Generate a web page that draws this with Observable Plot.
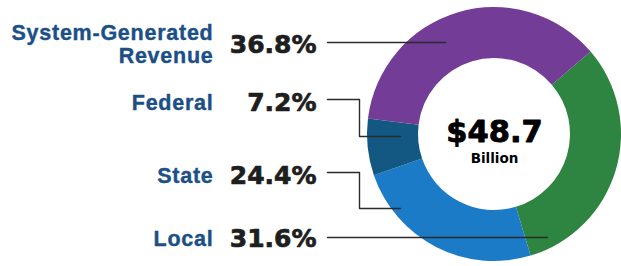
<!DOCTYPE html>
<html>
<head>
<meta charset="utf-8">
<script src="https://cdn.jsdelivr.net/npm/d3@7"></script>
<script src="https://cdn.jsdelivr.net/npm/@observablehq/plot@0.6"></script>
<style>
  html, body { margin: 0; padding: 0; background: #fff; }
</style>
</head>
<body>
<div id="chart"></div>
<script>
// ---- data ----
const categories = ["System-Generated Revenue", "Federal", "State", "Local"];
const labelText = ["System-Generated\nRevenue", "Federal", "State", "Local"];
const shares = [36.8, 7.2, 24.4, 31.6];
const colors = ["#723c97", "#125883", "#1c7bc6", "#2e8542"];
const totalLabel = "$48.7";
const totalUnit = "Billion";

// ---- layout ----
const W = 621, H = 266;
const cx = 494, cy = 134, rOuter = 127, rInner = 76;
const startDeg = 49.5;
const labelRight = 213, pctRight = 316;
const pctBaseline = [52, 110, 183, 246];
const labelBaseline = [62, 109, 182, 245];
const lineY = [42, 99, 172, 237];
const lineStartX = 327;

const rows = categories.map((c, i) => ({
  category: c, label: labelText[i], share: shares[i], color: colors[i],
  pct: shares[i].toFixed(1) + "%"
}));

// pie ordered clockwise: Local, State, Federal, System
const pieOrder = rows.slice().reverse();
const start = startDeg * Math.PI / 180;
const arcs = d3.pie().sort(null).value(d => d.share)
  .startAngle(start).endAngle(start + 2 * Math.PI)(pieOrder);

// leader line end points (layout)
const bendX = 359;
const leaderEnds = {
  "System-Generated Revenue": [[lineStartX, lineY[0]], [445, lineY[0]]],
  "Federal": [[lineStartX, lineY[1]], [bendX, lineY[1]], [bendX, 136], [400, 136]],
  "State": [[lineStartX, lineY[2]], [bendX, lineY[2]], [bendX, 208], [400, 208]],
  "Local": [[lineStartX, lineY[3]], [547, lineY[3]]]
};
const leaderPts = [];
for (const r of rows) for (const [x, y] of leaderEnds[r.category]) leaderPts.push({category: r.category, x, y});

const donut = (index, scales) => {
  const g = d3.create("svg:g").attr("transform", `translate(${scales.x(cx)},${scales.y(cy)})`);
  const arc = d3.arc().innerRadius(rInner).outerRadius(rOuter);
  g.selectAll("path").data(arcs).join("path")
    .attr("d", arc)
    .attr("fill", d => d.data.color);
  return g.node();
};

const plot = Plot.plot({
  width: W, height: H, margin: 0,
  x: {domain: [0, W], range: [0, W], axis: null},
  y: {domain: [0, H], range: [0, H], axis: null},
  style: {background: "#fff"},
  marks: [
    donut,
    Plot.line(leaderPts, {x: "x", y: "y", z: "category", stroke: "#2b2b2b", strokeWidth: 1.4, curve: "linear"}),
    Plot.text(rows, {
      x: () => labelRight, y: (d, i) => labelBaseline[i], text: "label",
      textAnchor: "end", lineAnchor: "bottom", lineHeight: 1.07,
      fill: "#1b4f86", stroke: "#1b4f86", strokeWidth: 0.4,
      fontFamily: "Liberation Sans, Arial, sans-serif",
      fontWeight: "bold", fontSize: 21.5
    }),
    Plot.text(rows, {
      x: () => pctRight, y: (d, i) => pctBaseline[i], text: "pct",
      textAnchor: "end", lineAnchor: "bottom",
      fill: "#1e1e1e", stroke: "#1e1e1e", strokeWidth: 0.7,
      fontFamily: "DejaVu Sans, sans-serif",
      fontWeight: "bold", fontSize: 25
    }),
    Plot.text([totalLabel], {
      x: () => cx, y: () => 141, text: d => d, textAnchor: "middle", lineAnchor: "bottom",
      fill: "#000", stroke: "#000", strokeWidth: 0.9,
      fontFamily: "DejaVu Sans, sans-serif", fontWeight: "bold", fontSize: 30.5
    }),
    Plot.text([totalUnit], {
      x: () => cx, y: () => 162, text: d => d, textAnchor: "middle", lineAnchor: "bottom",
      fill: "#000", fontFamily: "DejaVu Sans, sans-serif", fontWeight: "bold", fontSize: 13.5
    })
  ]
});
// letter spacing for the category labels (first text mark)
const textGroups = d3.select(plot).selectAll('g[aria-label="text"]').nodes();
if (textGroups.length) d3.select(textGroups[0]).style("letter-spacing", "0.75px");
document.getElementById("chart").appendChild(plot);
</script>
</body>
</html>
